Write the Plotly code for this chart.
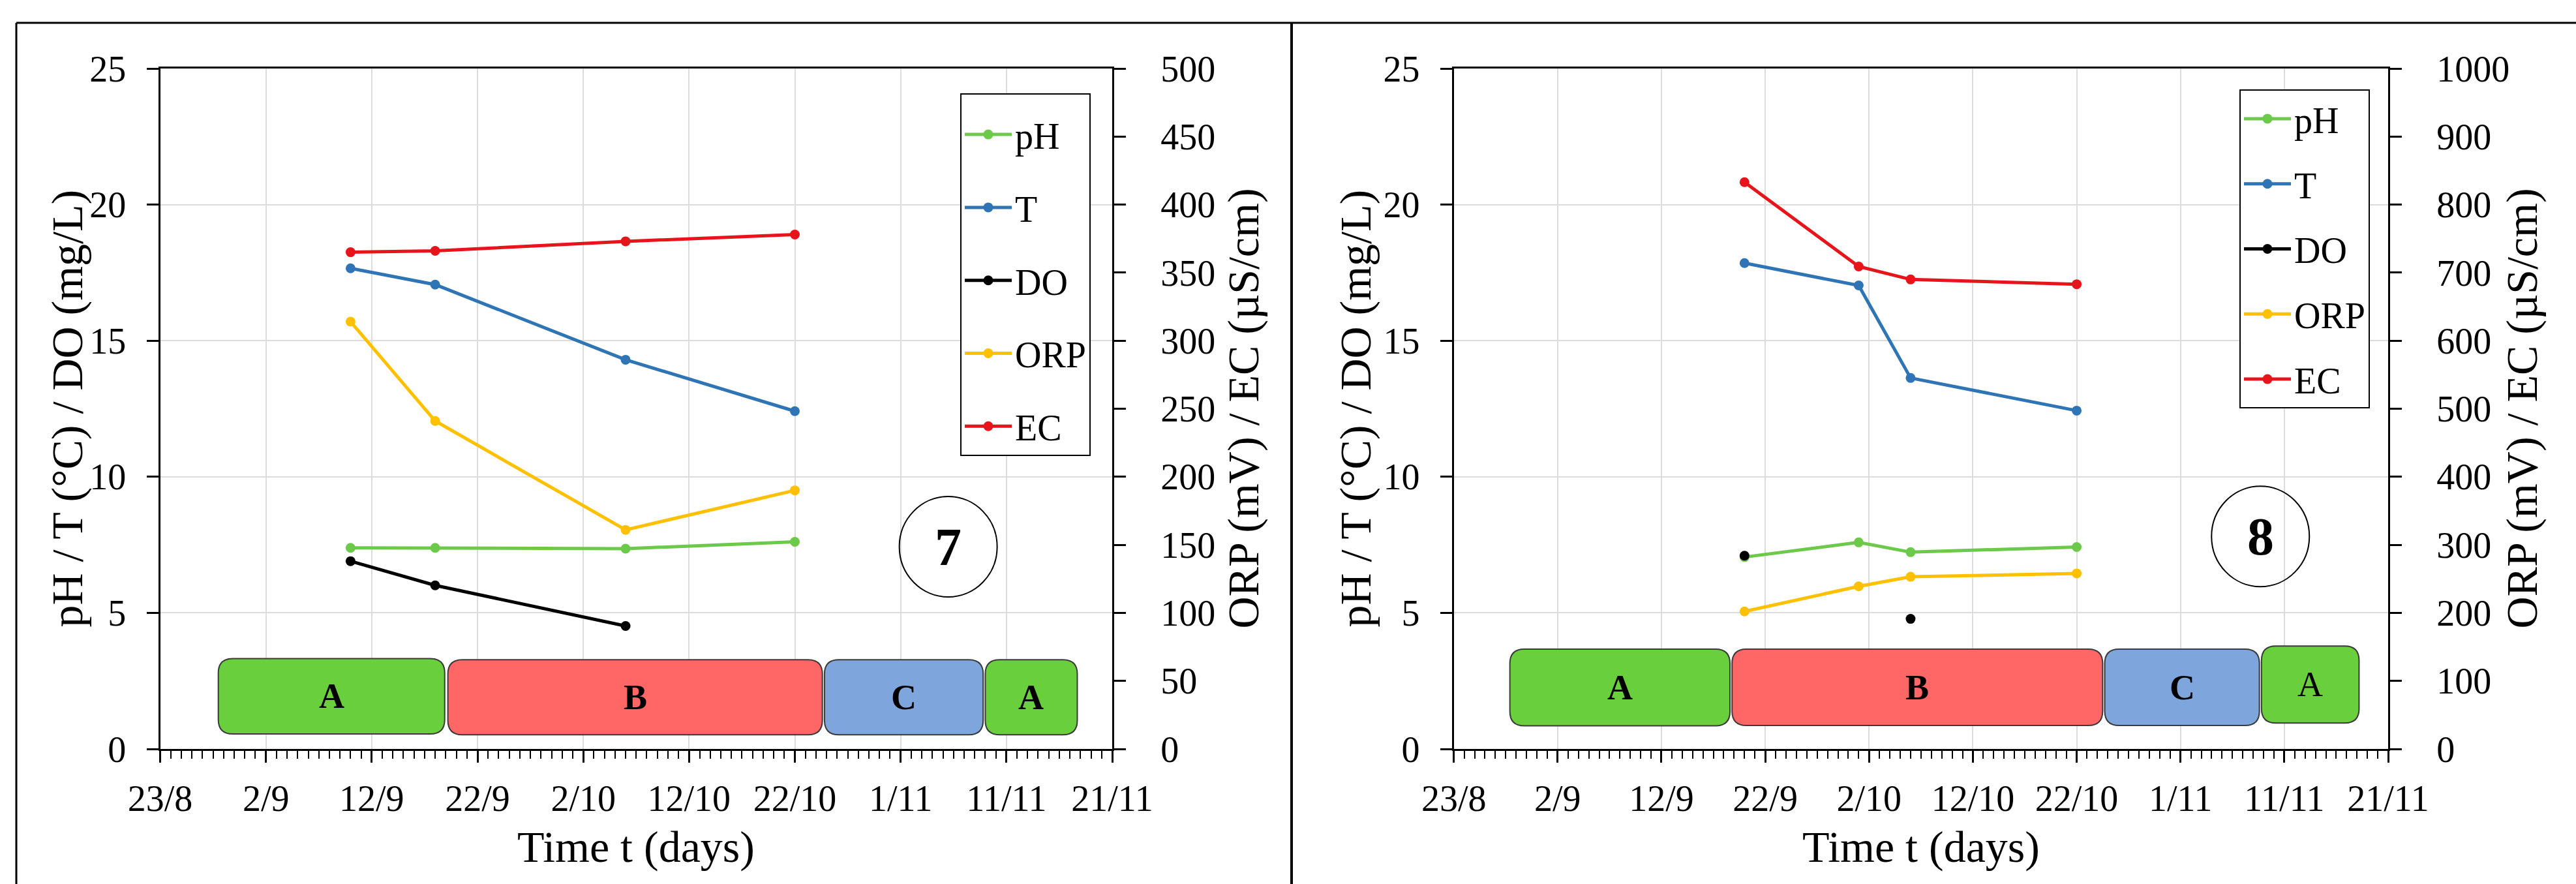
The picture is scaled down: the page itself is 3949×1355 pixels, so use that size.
import plotly.graph_objects as go
import pandas as pd

# ---------------- data ----------------
START = "2021-08-23"
tick_vals = [0, 10, 20, 30, 40, 50, 60, 70, 80, 90]
tick_text = ["23/8", "2/9", "12/9", "22/9", "2/10", "12/10", "22/10", "1/11", "11/11", "21/11"]

series_names = ["pH", "T", "DO", "ORP", "EC"]

# Panel 7
dates_7 = ["2021-09-10", "2021-09-18", "2021-10-06", "2021-10-22"]
ph_7 = [7.39, 7.39, 7.36, 7.61]
t_7 = [17.66, 17.06, 14.30, 12.41]
do_7 = [6.90, 6.01, 4.52, None]
orp_7 = [314, 241, 161, 190]
ec_7 = [365, 366, 373, 378]

# Panel 8
dates_8 = ["2021-09-20", "2021-10-01", "2021-10-06", "2021-10-22"]
ph_8 = [7.05, 7.59, 7.23, 7.42]
t_8 = [17.85, 17.03, 13.63, 12.43]
do_8 = [7.10, None, 4.78, None]
orp_8 = [202, 239, 253, 258]
ec_8 = [833, 709, 690, 683]

# Phases (days after 23/8, left-axis units)
phase_labels = ["A", "B", "C", "A"]
phase7_start = [5.5, 27.2, 62.8, 78.0]
phase7_end = [26.9, 62.6, 77.8, 86.7]
phase7_low = [0.55, 0.52, 0.52, 0.52]
phase7_high = [3.32, 3.28, 3.28, 3.28]
phase7_bold = [True, True, True, True]

phase8_start = [5.4, 26.8, 62.7, 77.8]
phase8_end = [26.6, 62.5, 77.6, 87.2]
phase8_low = [0.85, 0.86, 0.86, 0.95]
phase8_high = [3.67, 3.67, 3.67, 3.78]
phase8_bold = [True, True, True, False]

# ---------------- style ----------------
FONT = "Liberation Serif"
W, H = 3949, 1355
COLORS = {"pH": "#6cc94a", "T": "#2f75b5", "DO": "#000000", "ORP": "#ffc000", "EC": "#e8141c"}
PHASE_FILL = {"A": "#6acf3c", "B": "#ff6666", "C": "#7ea6dc"}

# plot-area geometry (pixels)
PY_TOP, PY_BOT = 105, 1148
P7_X0, P7_X1 = 245.5, 1705
P8_X0, P8_X1 = 2228.7, 3661

def fx(px):
    return px / W

def fy(py):
    return 1 - py / H

ydom = [fy(PY_BOT), fy(PY_TOP)]

def days(dates):
    return list((pd.to_datetime(dates) - pd.Timestamp(START)).days)

x7 = days(dates_7)
x8 = days(dates_8)

fig = go.Figure()

def add_panel(xv, vals, xa, ya_left, ya_right, legend_name, tag):
    for name, v in zip(series_names, vals):
        right = name in ("ORP", "EC")
        fig.add_trace(go.Scatter(
            x=xv, y=v, name=name, mode="lines+markers",
            line=dict(color=COLORS[name], width=5),
            marker=dict(color=COLORS[name], size=15),
            xaxis=xa, yaxis=ya_right if right else ya_left,
            legend=legend_name, legendgroup=tag + name,
            connectgaps=False, showlegend=True,
        ))

add_panel(x7, [ph_7, t_7, do_7, orp_7, ec_7], "x", "y", "y2", "legend", "p7")
add_panel(x8, [ph_8, t_8, do_8, orp_8, ec_8], "x2", "y3", "y4", "legend2", "p8")

axis_font = dict(family=FONT, size=56, color="black")

def xaxis_cfg(x0, x1, anchor):
    return dict(
        domain=[fx(x0), fx(x1)], anchor=anchor, range=[0, 90], automargin=False,
        tickmode="array", tickvals=tick_vals, ticktext=tick_text,
        ticks="outside", ticklen=18, tickwidth=3, tickcolor="black",
        minor=dict(tickmode="linear", tick0=0, dtick=1, ticks="outside",
                   ticklen=12, tickwidth=2, tickcolor="black", showgrid=False),
        showline=True, linecolor="black", linewidth=3, mirror=True,
        showgrid=True, gridcolor="#dcdcdc", gridwidth=2,
        tickfont=axis_font, zeroline=False, ticklabelstandoff=7,
    )

def yaxis_left_cfg(anchor):
    return dict(
        domain=ydom, anchor=anchor, range=[0, 25], dtick=5, tick0=0, automargin=False,
        ticks="outside", ticklen=18, tickwidth=3, tickcolor="black",
        showline=True, linecolor="black", linewidth=3,
        showgrid=True, gridcolor="#dcdcdc", gridwidth=2,
        tickfont=axis_font, zeroline=False, ticklabelstandoff=20,
    )

def yaxis_right_cfg(anchor, overlay, top, step):
    return dict(
        anchor=anchor, overlaying=overlay, side="right", range=[0, top], dtick=step, tick0=0,
        automargin=False,
        ticks="outside", ticklen=18, tickwidth=3, tickcolor="black",
        showline=True, linecolor="black", linewidth=3,
        showgrid=False, tickfont=axis_font, zeroline=False, ticklabelstandoff=42,
    )

legend_common = dict(
    xanchor="left", yanchor="top", bordercolor="black", borderwidth=2,
    bgcolor="white", font=dict(family=FONT, size=56, color="black"),
    traceorder="grouped", itemwidth=72,
)

fig.update_layout(
    width=W, height=H, margin=dict(l=0, r=0, t=0, b=0, autoexpand=False),
    paper_bgcolor="white", plot_bgcolor="white",
    font=dict(family=FONT, color="black"),
    xaxis=xaxis_cfg(P7_X0, P7_X1, "y"),
    yaxis=yaxis_left_cfg("x"),
    yaxis2=yaxis_right_cfg("x", "y", 500, 50),
    xaxis2=xaxis_cfg(P8_X0, P8_X1, "y3"),
    yaxis3=yaxis_left_cfg("x2"),
    yaxis4=yaxis_right_cfg("x2", "y3", 1000, 100),
    legend=dict(x=fx(1472), y=fy(143), tracegroupgap=36,
                title=dict(text=" ", font=dict(family=FONT, size=14)), **legend_common),
    legend2=dict(x=fx(3433), y=fy(137), tracegroupgap=24, **legend_common),
    showlegend=True,
)

# ---------------- phase boxes ----------------
def rounded_path(x0, x1, y0, y1, rx, ry):
    return (f"M {x0 + rx} {y0} L {x1 - rx} {y0} Q {x1} {y0} {x1} {y0 + ry} "
            f"L {x1} {y1 - ry} Q {x1} {y1} {x1 - rx} {y1} L {x0 + rx} {y1} "
            f"Q {x0} {y1} {x0} {y1 - ry} L {x0} {y0 + ry} Q {x0} {y0} {x0 + rx} {y0} Z")

shapes = []
annotations = []
R_PX = 22

def add_phases(starts, ends, lows, highs, bolds, xref, yref, plot_w):
    rx = R_PX / (plot_w / 90)
    ry = R_PX / ((PY_BOT - PY_TOP) / 25)
    for lab, s, e, lo, hi, b in zip(phase_labels, starts, ends, lows, highs, bolds):
        shapes.append(dict(type="path", xref=xref, yref=yref,
                           path=rounded_path(s, e, lo, hi, rx, ry),
                           fillcolor=PHASE_FILL[lab], line=dict(color="#3a3a3a", width=2),
                           layer="above"))
        annotations.append(dict(x=(s + e) / 2, y=(lo + hi) / 2, xref=xref, yref=yref,
                                xanchor="center", yanchor="middle",
                                text=f"<b>{lab}</b>" if b else lab, showarrow=False,
                                font=dict(family=FONT, size=54, color="black")))

add_phases(phase7_start, phase7_end, phase7_low, phase7_high, phase7_bold, "x", "y", P7_X1 - P7_X0)
add_phases(phase8_start, phase8_end, phase8_low, phase8_high, phase8_bold, "x2", "y3", P8_X1 - P8_X0)

# circled panel numbers
for num, cx, cy, xref, yref in [("7", 74.5, 7.43, "x", "y"), ("8", 77.7, 7.81, "x2", "y3")]:
    shapes.append(dict(type="circle", xref=xref, yref=yref, xsizemode="pixel", ysizemode="pixel",
                       xanchor=cx, yanchor=cy, x0=-75, x1=75, y0=-77, y1=77,
                       line=dict(color="black", width=2), fillcolor="rgba(0,0,0,0)"))
    annotations.append(dict(x=cx, y=cy, xref=xref, yref=yref, text=f"<b>{num}</b>",
                            xanchor="center", yanchor="middle",
                            showarrow=False, font=dict(family=FONT, size=82, color="black")))

# axis titles
title_font = dict(family=FONT, size=68, color="black")
ymid = fy((PY_TOP + PY_BOT) / 2)
for xpx in (102, 2077):
    annotations.append(dict(x=fx(xpx), y=ymid, xref="paper", yref="paper",
                            xanchor="center", yanchor="middle",
                            text="pH / T (°C) / DO (mg/L)", textangle=-90,
                            showarrow=False, font=title_font))
for xpx in (1905, 3865):
    annotations.append(dict(x=fx(xpx), y=ymid, xref="paper", yref="paper",
                            xanchor="center", yanchor="middle",
                            text="ORP (mV) / EC (µS/cm)", textangle=-90,
                            showarrow=False, font=title_font))
for x0, x1 in ((P7_X0, P7_X1), (P8_X0, P8_X1)):
    annotations.append(dict(x=fx((x0 + x1) / 2), y=fy(1298), xref="paper", yref="paper",
                            xanchor="center", yanchor="middle",
                            text="Time t (days)", showarrow=False, font=title_font))

# outer frame
frame = dict(color="black", width=3)
shapes.append(dict(type="line", xref="paper", yref="paper", x0=fx(25), x1=1, y0=fy(35), y1=fy(35), line=frame))
shapes.append(dict(type="line", xref="paper", yref="paper", x0=fx(25), x1=fx(25), y0=0, y1=fy(35), line=frame))
shapes.append(dict(type="line", xref="paper", yref="paper", x0=fx(1980), x1=fx(1980), y0=0, y1=fy(35),
                   line=dict(color="black", width=4)))

fig.update_layout(shapes=shapes, annotations=annotations)

fig.write_html("out.html")
